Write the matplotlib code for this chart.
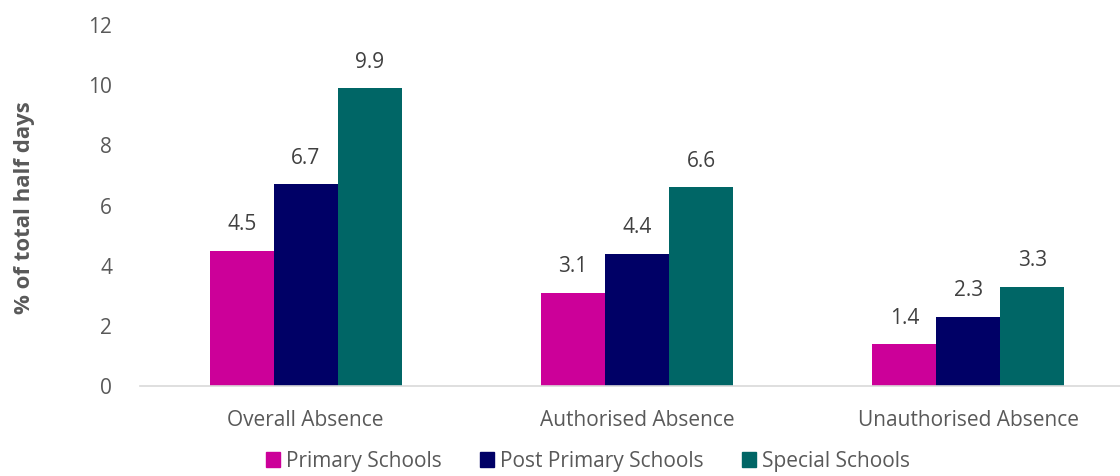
import matplotlib
matplotlib.use("Agg")
import matplotlib.pyplot as plt
import numpy as np
from matplotlib.patches import Patch

categories = ["Overall Absence", "Authorised Absence", "Unauthorised Absence"]
series_names = ["Primary Schools", "Post Primary Schools", "Special Schools"]
primary = [4.5, 3.1, 1.4]
post_primary = [6.7, 4.4, 2.3]
special = [9.9, 6.6, 3.3]
colors = ["#CC0099", "#000066", "#006666"]
yticks = [0, 2, 4, 6, 8, 10, 12]

plt.rcParams['font.family'] = ['Open Sans', 'DejaVu Sans']
txt = "#595959"

fig = plt.figure(figsize=(11.2, 4.76), dpi=100)
ax = fig.add_axes([140/1120, 1-386/476, (1120-140)/1120, (386-25)/476])

x = np.arange(len(categories))
w = 0.193
for i, (vals, c) in enumerate(zip([primary, post_primary, special], colors)):
    bars = ax.bar(x + (i-1)*w, vals, w, color=c, label=series_names[i])
    for b, v in zip(bars, vals):
        ax.text(b.get_x()+b.get_width()/2, v + 0.86, f"{v:.1f}", ha="center", va="center",
                fontsize=15, color="#404040")

ax.set_xlim(-0.5, 2.5 - 14/331.5)
ax.set_ylim(0, 12)
ax.set_yticks(yticks)
ax.set_xticks(x)
ax.set_xticklabels(categories)
ax.tick_params(axis="both", length=0, labelsize=15, labelcolor=txt)
ax.tick_params(axis="y", pad=20)
ax.tick_params(axis="x", pad=17)
for s in ["top", "right", "left"]:
    ax.spines[s].set_visible(False)
ax.spines["bottom"].set_color("#D9D9D9")
ax.spines["bottom"].set_linewidth(1.2)

fig.text(25/1120, 1-208/476, "% of total half days", rotation=90, ha="center", va="center",
         fontsize=16, fontweight="bold", color=txt)

handles = [Patch(color=c, label=n) for c, n in zip(colors, series_names)]
fig.legend(handles=handles, loc="center", bbox_to_anchor=(588/1120, 1-461/476), ncol=3,
           frameon=False, fontsize=15, labelcolor=txt, handlelength=0.7, handleheight=0.7,
           handletextpad=0.3, columnspacing=1.8, borderpad=0.2)

fig.savefig("out.png", dpi=100)
